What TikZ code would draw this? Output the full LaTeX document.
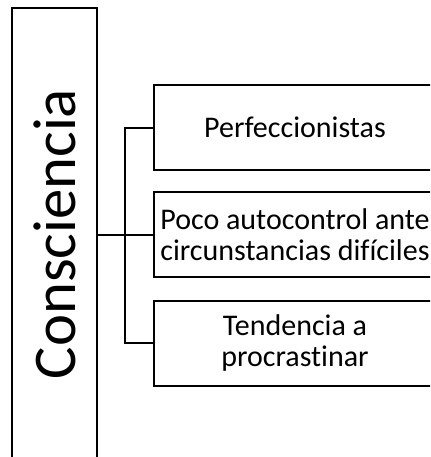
\documentclass[tikz,border=0pt]{standalone}
\usepackage{fontspec}
\setmainfont{Carlito}[Ligatures=NoCommon]
\usetikzlibrary{positioning}

\tikzset{
    bigbox/.style={draw, line width=1.5pt, rotate=90, minimum width=339pt, minimum height=63.75pt,
        inner sep=0pt, font=\fontsize{45.5}{52}\selectfont},
    itembox/.style={draw, line width=1.5pt, minimum width=211.5pt, minimum height=63.75pt,
        inner sep=0pt, align=center, font=\fontsize{22.5}{23.5}\selectfont},
    link/.style={line width=1.5pt}
}

\begin{document}
\begin{tikzpicture}[x=0.75pt, y=-0.75pt]

    % page size, boxes run past the right and bottom edges
    \useasboundingbox (0,0) rectangle (430,457);
    \clip (0,0) rectangle (430,457);

    % Main box
    \node[bigbox] (cons) at (54.5,234) {Consciencia};

    % Traits
    \node[itembox] (perf) at (295,127.5) {Perfeccionistas};
    \node[itembox] (poco) at (295,234.5) {Poco autocontrol ante\\circunstancias difíciles};
    \node[itembox] (tend) at (295,343) {Tendencia a\\procrastinar};

    % Connectors
    \draw[link] (cons.south |- poco.west) -- (poco.west);
    \draw[link] (perf.west) -- ++(-28,0) |- (tend.west);

\end{tikzpicture}
\end{document}
